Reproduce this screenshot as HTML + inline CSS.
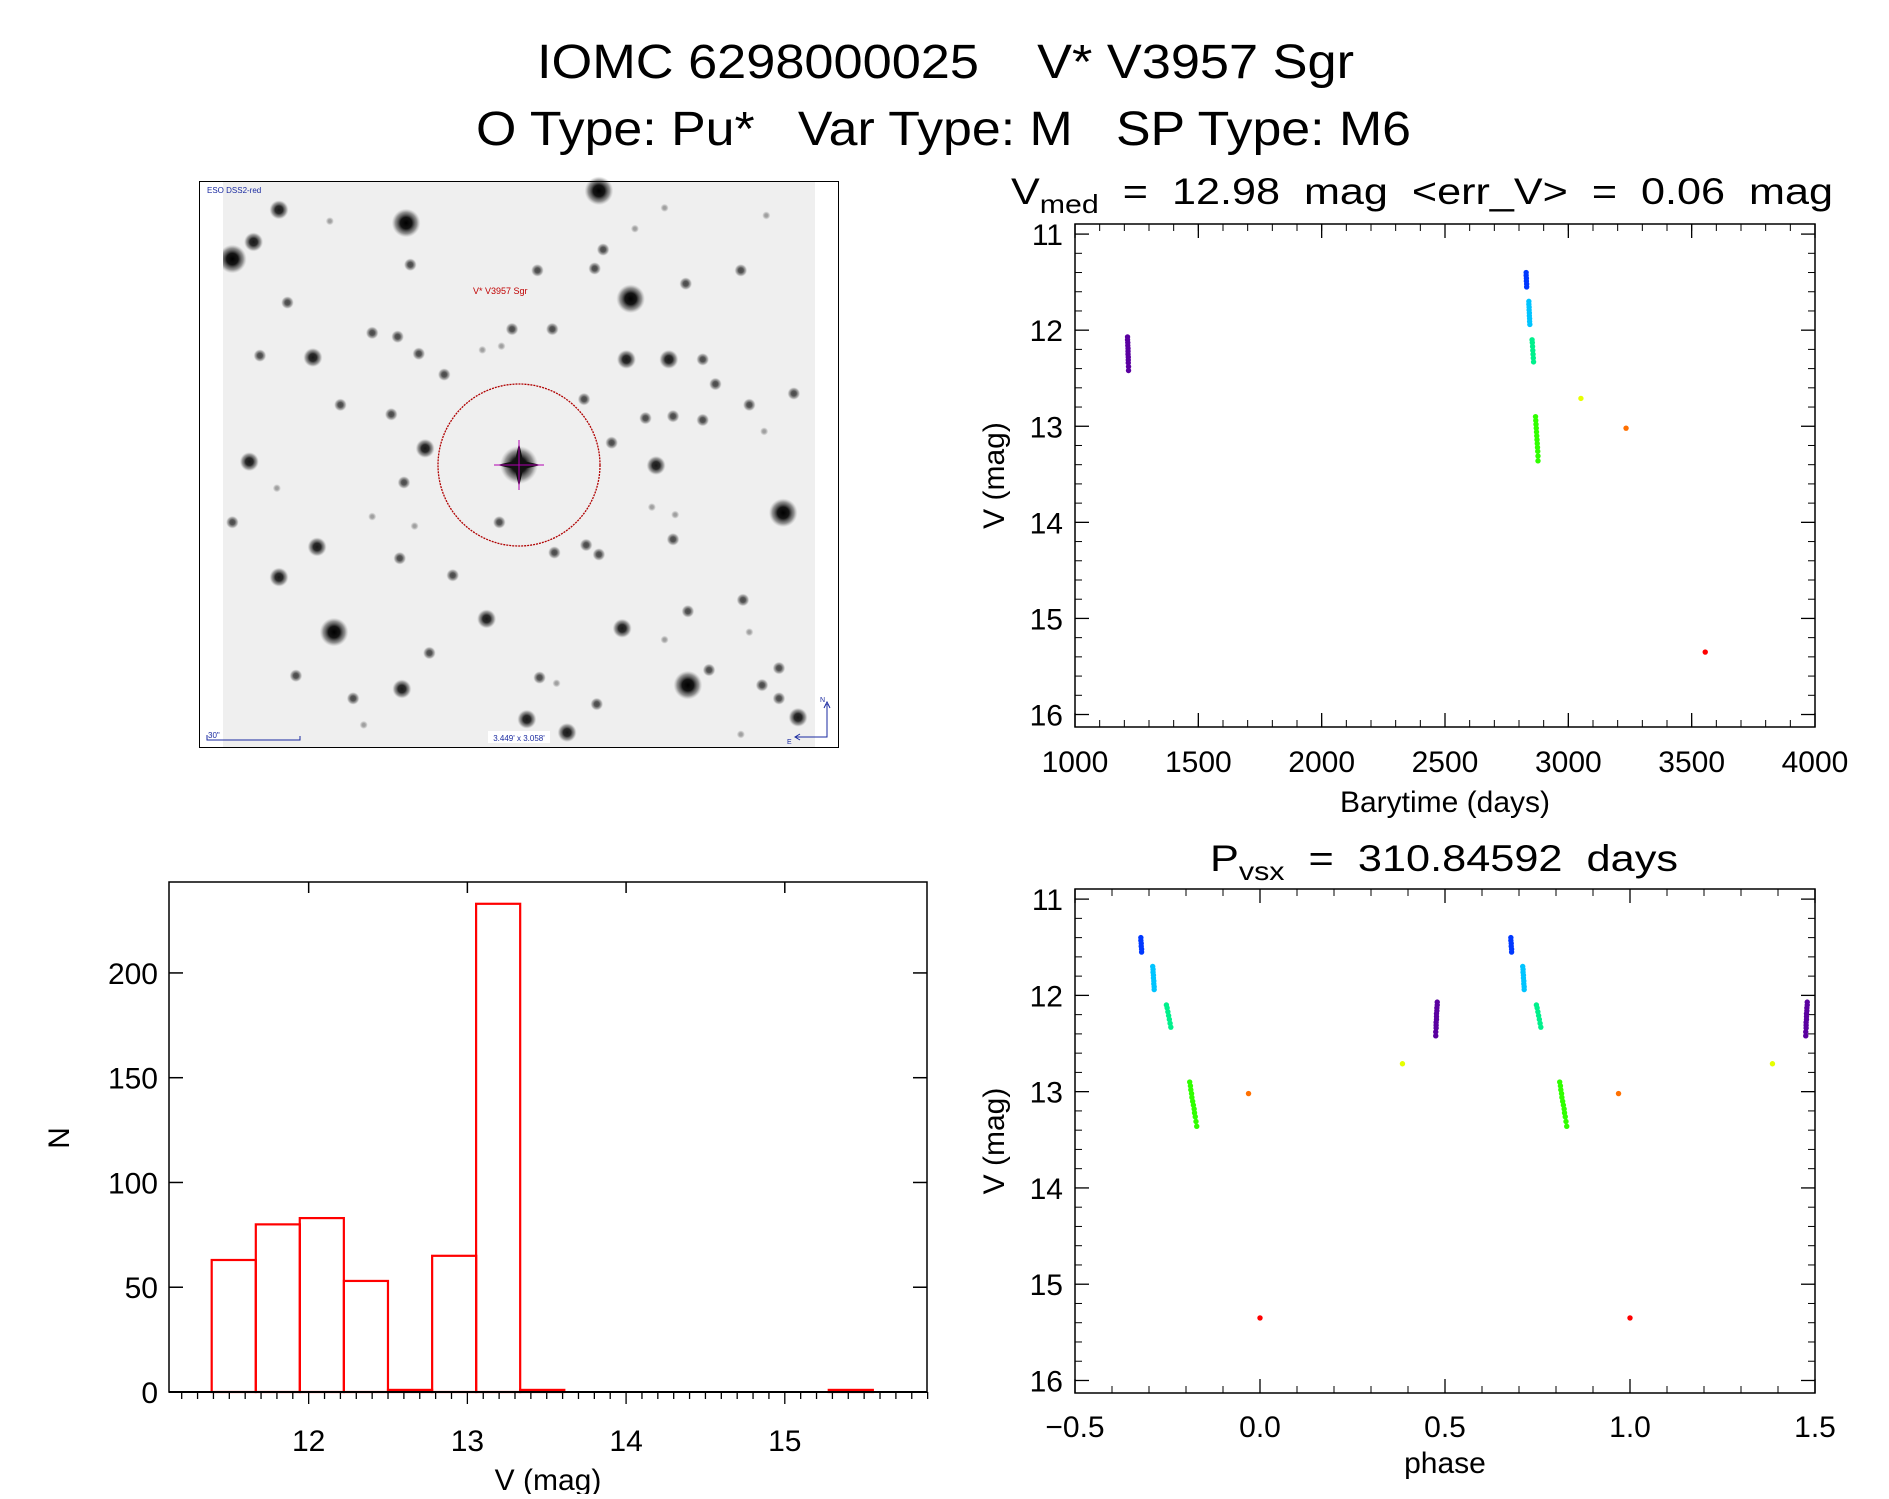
<!DOCTYPE html>
<html><head><meta charset="utf-8"><style>
html,body{margin:0;padding:0;background:#fff}
svg text{font-family:"Liberation Sans",sans-serif;fill:#000;white-space:pre}
</style></head><body>
<svg id="fig" xmlns="http://www.w3.org/2000/svg" width="1889" height="1494" viewBox="0 0 1889 1494" xml:space="preserve">
<rect width="1889" height="1494" fill="#fff"/>
<text x="537" y="78" font-size="48" textLength="817" lengthAdjust="spacingAndGlyphs">IOMC 6298000025    V* V3957 Sgr</text>
<text x="476" y="145" font-size="48" textLength="935" lengthAdjust="spacingAndGlyphs">O Type: Pu*   Var Type: M   SP Type: M6</text>
<g id="img"></g>
<g id="lc"></g>
<g id="ph"></g>
<g id="hist"></g>
</svg>
<script>
// ---- light curve data ----
const grpColors=["#5a00a0","#0038ff","#00c4ff","#00f08c","#30ff00","#e6ff00","#ff7000","#ff0000"];
const tPurple=[1213,1213,1214,1214,1215,1215,1215,1216,1216,1216,1217,1217];
const mPurple=[12.07,12.1,12.13,12.16,12.19,12.22,12.25,12.28,12.31,12.34,12.38,12.42];
const pPurple=[0.479,0.479,0.478,0.478,0.477,0.477,0.477,0.476,0.476,0.476,0.475,0.475];
const tBlue=[2829,2829,2830,2830,2831,2831];
const mBlue=[11.4,11.43,11.46,11.49,11.52,11.55];
const pBlue=[-0.322,-0.322,-0.321,-0.321,-0.32,-0.32];
const tCyan=[2840,2840,2841,2841,2842,2842,2843,2843,2844];
const mCyan=[11.7,11.73,11.76,11.79,11.82,11.85,11.88,11.91,11.94];
const pCyan=[-0.29,-0.289,-0.289,-0.288,-0.288,-0.287,-0.287,-0.286,-0.286];
const tTeal=[2853,2854,2855,2856,2857,2858,2859];
const mTeal=[12.1,12.13,12.17,12.21,12.25,12.29,12.33];
const pTeal=[-0.253,-0.251,-0.249,-0.247,-0.245,-0.243,-0.241];
const tGreen=[2867,2868,2869,2870,2871,2872,2873,2874,2875,2876,2877,2877];
const mGreen=[12.9,12.94,12.98,13.02,13.06,13.1,13.14,13.18,13.22,13.26,13.31,13.36];
const pGreen=[-0.19,-0.188,-0.187,-0.185,-0.184,-0.182,-0.18,-0.178,-0.177,-0.175,-0.173,-0.171];
const tYellow=[3051]; const mYellow=[12.71]; const pYellow=[0.385];
const tOrange=[3234]; const mOrange=[13.02]; const pOrange=[-0.031];
const tRed=[3555]; const mRed=[15.35]; const pRed=[0.0];
const groupsT=[tPurple,tBlue,tCyan,tTeal,tGreen,tYellow,tOrange,tRed];
const groupsM=[mPurple,mBlue,mCyan,mTeal,mGreen,mYellow,mOrange,mRed];
const groupsP=[pPurple,pBlue,pCyan,pTeal,pGreen,pYellow,pOrange,pRed];
const lcXTicks=[1000,1500,2000,2500,3000,3500,4000];
const phXTicks=[-0.5,0.0,0.5,1.0,1.5];
const phXTickLabels=["\u22120.5","0.0","0.5","1.0","1.5"];
const magTicks=[11,12,13,14,15,16];
// ---- histogram data ----
const binLeft=[11.389,11.667,11.944,12.222,12.5,12.778,13.055,13.333,13.61,13.888,14.166,14.443,14.721,14.999,15.277];
const binCount=[63,80,83,53,1,65,233,1,0,0,0,0,0,0,1];
const histXTicks=[12,13,14,15];
const histYTicks=[0,50,100,150,200];

const NS="http://www.w3.org/2000/svg";
function mk(tag,attrs,parent){const e=document.createElementNS(NS,tag);for(const k in attrs)e.setAttribute(k,attrs[k]);parent.appendChild(e);return e;}
function txt(s,attrs,parent){const e=mk("text",attrs,parent);e.textContent=s;return e;}

// ---------- sky image ----------
(function(){
const g=document.getElementById("img");
mk("rect",{x:223,y:181,width:592,height:567,fill:"#efefef"},g);
const stars=[[965,55,3],[510,140,3],[210,105,2],[100,235,3],[150,190,2],[1040,340,3],[820,265,1],[975,210,1],[855,420,1],[290,495,2],[165,490,1],[540,485,1],[600,540,1],[1030,500,2],[1130,500,2],[1210,500,1],[475,645,1],[355,620,1],[555,735,2],[1100,780,2],[1320,620,1],[1425,590,1],[1140,650,1],[1075,655,1],[1210,660,1],[995,720,1],[140,770,2],[505,825,1],[1400,905,3],[1140,975,1],[300,995,2],[210,1075,2],[620,1070,1],[700,1185,2],[340,1220,3],[1020,1210,2],[1175,1165,1],[1305,1135,1],[565,1275,1],[500,1370,2],[1175,1360,3],[1225,1320,1],[795,1450,2],[890,1485,2],[1435,1445,2],[960,1410,1],[825,1340,1],[935,990,1],[730,930,1],[230,350,1],[430,430,1],[490,440,1],[760,420,1],[1300,265,1],[1170,300,1],[955,260,1],[520,250,1],[330,135,0],[1120,100,0],[1360,120,0],[1050,155,0],[100,930,1],[860,1010,1],[965,1015,1],[495,1025,1],[530,940,0],[250,1335,1],[385,1395,1],[1390,1315,1],[1350,1360,1],[1390,1395,1],[1320,1220,0],[1240,565,1],[1355,690,0],[430,915,0],[205,840,0],[1090,890,0],[1145,910,0],[930,605,1],[690,475,0],[735,465,0],[410,1465,0],[1300,1490,0],[1120,1240,0],[865,1355,0]];
const rad=[2.6,4,6,9];
const op=[0.35,0.7,0.9,1];
const defs=mk("defs",{},g);
const rg=mk("radialGradient",{id:"st"},defs);
mk("stop",{offset:"0","stop-color":"#000"},rg);
mk("stop",{offset:"0.4","stop-color":"#151515"},rg);
mk("stop",{offset:"0.75","stop-color":"#555","stop-opacity":"0.6"},rg);
mk("stop",{offset:"1","stop-color":"#999","stop-opacity":"0"},rg);
stars.forEach(s=>{
  const c=mk("circle",{cx:s[0]/2.36+190,cy:s[1]/2.64+170,r:rad[s[2]]*1.6,fill:"url(#st)",opacity:op[s[2]]},g);
  
  
});
const cx=519,cy=465;
mk("circle",{cx:cx,cy:cy,r:19,fill:"url(#st)"},g);
mk("path",{d:`M${cx-22} ${cy} L${cx} ${cy-5} L${cx+22} ${cy} L${cx} ${cy+5}Z M${cx} ${cy-22} L${cx+5} ${cy} L${cx} ${cy+22} L${cx-5} ${cy}Z`,fill:"#111"},g);
mk("line",{x1:cx-25,y1:cy,x2:cx+25,y2:cy,stroke:"#b000b0","stroke-width":1},g);
mk("line",{x1:cx,y1:cy-25,x2:cx,y2:cy+25,stroke:"#b000b0","stroke-width":1},g);
const circ=mk("circle",{cx:cx,cy:cy,r:81,fill:"none",stroke:"#b00000","stroke-width":1.3,"stroke-dasharray":"2 1"},g);


mk("rect",{x:199.5,y:181.5,width:639,height:566,fill:"none",stroke:"#000","stroke-width":1},g);
mk("rect",{x:200,y:182,width:23,height:565,fill:"#fff"},g);
mk("rect",{x:815,y:182,width:23,height:565,fill:"#fff"},g);
mk("line",{x1:199.5,y1:181,x2:199.5,y2:748,stroke:"#000"},g);
mk("line",{x1:838.5,y1:181,x2:838.5,y2:748,stroke:"#000"},g);
const t1=txt("ESO DSS2-red",{x:207,y:193,"font-size":8,style:"fill:#1a2aa0"},g);

const t2=txt("V* V3957 Sgr",{x:473,y:294,"font-size":9,style:"fill:#c00000"},g);

const t3=txt('30"',{x:208,y:738,"font-size":8,style:"fill:#1a2aa0"},g);

mk("path",{d:"M207 735 V740 H300 V736",stroke:"#1a2aa0",fill:"none","stroke-width":1},g);
mk("rect",{x:488,y:731,width:62,height:12,fill:"#fff"},g);
const t4=txt("3.449' x 3.058'",{x:519,y:741,"font-size":8,"text-anchor":"middle",style:"fill:#1a2aa0"},g);

mk("path",{d:"M827 704 V737 H796 M824 708 L827 702 L830 708 M800 734 L795 737 L800 740",stroke:"#1a2aa0",fill:"none","stroke-width":1},g);
txt("N",{x:820,y:702,"font-size":7,style:"fill:#1a2aa0"},g);
txt("E",{x:787,y:744,"font-size":7,style:"fill:#1a2aa0"},g);
})();

// ---------- scatter plots ----------
function scatterPlot(gid,box,xmin,xmax,xMinorStep,xLabels,xTickVals,title,sub,titleRest,titleBox,xLabel,xLabelY,tickLabelY,getX,shift){
  const g=document.getElementById(gid);
  const L=box[0],T=box[1],R=box[2],B=box[3];
  const ymin=10.895,ymax=16.13;
  const sx=v=>L+(v-xmin)/(xmax-xmin)*(R-L);
  const sy=v=>T+(v-ymin)/(ymax-ymin)*(B-T);
  mk("rect",{x:L,y:T,width:R-L,height:B-T,fill:"none",stroke:"#000","stroke-width":1.5},g);
  const nmin=Math.round((xmax-xmin)/xMinorStep);
  for(let i=1;i<nmin;i++){const x=sx(xmin+i*xMinorStep);
    mk("line",{x1:x,y1:B,x2:x,y2:B-7,stroke:"#000"},g);mk("line",{x1:x,y1:T,x2:x,y2:T+7,stroke:"#000"},g);}
  xTickVals.forEach((v,i)=>{const x=sx(v);
    mk("line",{x1:x,y1:B,x2:x,y2:B-14,stroke:"#000","stroke-width":1.3},g);mk("line",{x1:x,y1:T,x2:x,y2:T+14,stroke:"#000","stroke-width":1.3},g);
    const t=txt(xLabels[i],{x:x,y:tickLabelY,"font-size":30,"text-anchor":"middle"},g);
    
    
  });
  for(let v=11;v<=16.01;v+=0.2){const y=sy(v);const maj=Math.abs(v-Math.round(v))<0.01;
    const len=maj?14:7;
    mk("line",{x1:L,y1:y,x2:L+len,y2:y,stroke:"#000","stroke-width":maj?1.3:1},g);
    mk("line",{x1:R,y1:y,x2:R-len,y2:y,stroke:"#000","stroke-width":maj?1.3:1},g);}
  magTicks.forEach(v=>{
    const t=txt(String(v),{x:L-12,y:sy(v)+11,"font-size":30,"text-anchor":"end"},g);
    
    
  });
  const yl=txt("V (mag)",{x:0,y:0,"font-size":30,"text-anchor":"middle",transform:`translate(${L-71},${(T+B)/2}) rotate(-90)`},g);
  
  
  const xl=txt(xLabel,{x:(L+R)/2,y:xLabelY,"font-size":30,"text-anchor":"middle"},g);
  
  
  const tt=mk("text",{x:titleBox[0],y:titleBox[1],"font-size":37,textLength:titleBox[2],lengthAdjust:"spacingAndGlyphs"},g);
  
  
  tt.appendChild(document.createTextNode(title));
  const ts=mk("tspan",{"font-size":26,dy:9},tt);ts.textContent=sub;
  const tr=mk("tspan",{dy:-9},tt);tr.textContent=titleRest;
  for(let gi=0;gi<groupsM.length;gi++){
    const xs=getX(gi),ms=groupsM[gi];
    shift.forEach(off=>{
      for(let i=0;i<ms.length;i++){
        const c=mk("circle",{cx:sx(xs[i]+off),cy:sy(ms[i]),r:2.7,fill:grpColors[gi]},g);
        
        
      }
    });
  }
}
scatterPlot("lc",[1075,224,1815,727],1000,4000,100,lcXTicks.map(String),lcXTicks,
  "V","med","  =  12.98  mag  <err_V>  =  0.06  mag",[1011,204,822],"Barytime (days)",812,772,gi=>groupsT[gi],[0]);
scatterPlot("ph",[1075,889,1815,1393],-0.5,1.5,0.1,phXTickLabels,phXTicks,
  "P","vsx","  =  310.84592  days",[1210,871,468],"phase",1473,1437,gi=>groupsP[gi],[0,1]);

// ---------- histogram ----------
(function(){
  const g=document.getElementById("hist");
  const L=169,R=927,T=882,B=1392;
  const xmin=11.12,xmax=15.896,ymax=243.4;
  const sx=v=>L+(v-xmin)/(xmax-xmin)*(R-L);
  const sy=v=>B-v/ymax*(B-T);
  const bw=0.2777;
  binLeft.forEach((b,i)=>{
    const x0=sx(b),x1=sx(b+bw),y=sy(binCount[i]);
    const r=mk("rect",{x:x0,y:y,width:x1-x0,height:B-y,fill:"none",stroke:"#ff0000","stroke-width":2.2},g);
    
    
  });
  mk("rect",{x:L,y:T,width:R-L,height:B-T,fill:"none",stroke:"#000","stroke-width":1.5},g);
  mk("line",{x1:L,y1:B,x2:R,y2:B,stroke:"#000","stroke-width":2},g);
  for(let v=11.2;v<15.9;v+=0.1){const x=sx(v);const maj=Math.abs(v-Math.round(v))<0.01;
    mk("line",{x1:x,y1:B,x2:x,y2:B+(maj?12:7),stroke:"#000","stroke-width":1.3},g);}
  histXTicks.forEach(v=>{const x=sx(v);
    mk("line",{x1:x,y1:T,x2:x,y2:T+11,stroke:"#000","stroke-width":1.5},g);
    const t=txt(String(v),{x:x,y:1451,"font-size":30,"text-anchor":"middle"},g);
    
    
  });
  histYTicks.forEach(v=>{const y=sy(v);
    mk("line",{x1:L,y1:y,x2:L+14,y2:y,stroke:"#000","stroke-width":1.5},g);
    mk("line",{x1:R,y1:y,x2:R-14,y2:y,stroke:"#000","stroke-width":1.5},g);
    const t=txt(String(v),{x:158,y:y+11,"font-size":30,"text-anchor":"end"},g);
    
    
  });
  const yl=txt("N",{x:0,y:0,"font-size":30,"text-anchor":"middle",transform:"translate(69,1138) rotate(-90)"},g);
  
  
  const xl=txt("V (mag)",{x:548,y:1490,"font-size":30,"text-anchor":"middle"},g);
  
  
})();
</script>
</body></html>
